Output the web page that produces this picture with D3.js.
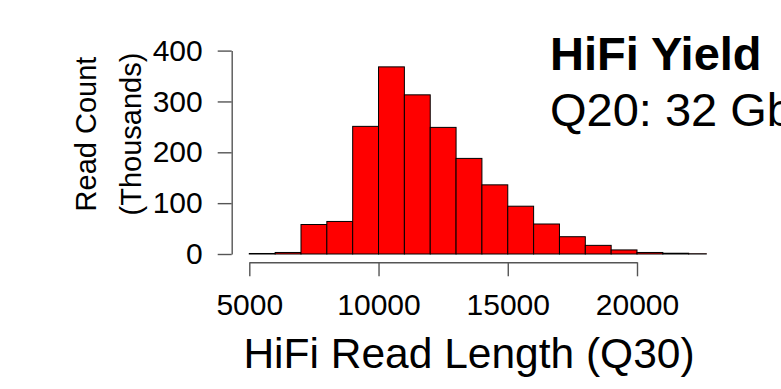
<!DOCTYPE html>
<html lang="en">
<head>
  <meta charset="UTF-8">
  <title>HiFi Read Length</title>
  <script src="https://d3js.org/d3.v7.min.js"></script>
  <style>
    body { margin: 0; background: #fff; }
    text { font-family: "Liberation Sans", Arial, Helvetica, sans-serif; fill: #000; }
  </style>
</head>
<body>
<div class="canvas"></div>
<script>
  // bin edges (read length) and counts in thousands
  const binStarts = [5000, 6000, 7000, 8000, 9000, 10000, 11000, 12000, 13000,
                     14000, 15000, 16000, 17000, 18000, 19000, 20000, 21000, 22000]
  const binWidth = 1000
  const counts = [1, 3, 58, 64, 251, 368, 313, 249, 188,
                  136, 94, 59, 34, 17, 8, 3, 1.5, 0.5]

  const xTicks = [5000, 10000, 15000, 20000]
  const yTicks = [0, 100, 200, 300, 400]
  const xMaxShown = 22700

  const titleLines = ['HiFi Yield', 'Q20: 32 Gb']
  const xLabel = 'HiFi Read Length (Q30)'
  const yLabelLines = ['Read Count', '(Thousands)']

  const width = 781, height = 389

  const svg = d3.select('.canvas')
    .append('svg')
    .attr('width', width)
    .attr('height', height)

  const x = d3.scaleLinear().domain([5000, 20000]).range([249.3, 637])
  const y = d3.scaleLinear().domain([0, 400]).range([254, 50.6])

  svg.append('clipPath')
    .attr('id', 'plotClip')
    .append('rect')
    .attr('x', 0)
    .attr('y', 0)
    .attr('width', x(xMaxShown))
    .attr('height', height)

  // histogram bars
  svg.append('g')
    .attr('clip-path', 'url(#plotClip)')
    .selectAll('rect')
    .data(binStarts)
    .enter()
    .append('rect')
    .attr('x', d => x(d))
    .attr('width', d => x(d + binWidth) - x(d))
    .attr('y', (d, i) => y(counts[i]))
    .attr('height', (d, i) => y(0) - y(counts[i]))
    .attr('fill', '#ff0000')
    .attr('stroke', '#000')
    .attr('stroke-width', 1)

  // axes, R style: detached, outward ticks
  const yAxis = svg.append('g')
    .attr('transform', 'translate(231.7, 0)')
    .call(d3.axisLeft(y).tickValues(yTicks).tickSize(14).tickSizeOuter(0).tickPadding(15))

  const xAxis = svg.append('g')
    .attr('transform', 'translate(0, 262.3)')
    .call(d3.axisBottom(x).tickValues(xTicks).tickFormat(d3.format('d')).tickSize(14).tickSizeOuter(0).tickPadding(17))

  ;[yAxis, xAxis].forEach(a => {
    a.select('.domain').attr('stroke', '#555').attr('stroke-width', 1.4)
    a.selectAll('.tick line').attr('stroke', '#555').attr('stroke-width', 1.4)
    a.selectAll('.tick text').attr('fill', '#000').style('font-size', '30px')
      .style('font-family', '"Liberation Sans", Arial, Helvetica, sans-serif')
  })

  // axis titles
  svg.append('text')
    .attr('x', 469)
    .attr('y', 368)
    .attr('text-anchor', 'middle')
    .style('font-size', '42.5px')
    .text(xLabel)

  const yLabelPos = [[96, 134], [141, 134]]
  svg.selectAll('.ylab')
    .data(yLabelLines)
    .enter()
    .append('text')
    .attr('class', 'ylab')
    .attr('transform', (d, i) => `translate(${yLabelPos[i][0]}, ${yLabelPos[i][1]}) rotate(-90)`)
    .attr('text-anchor', 'middle')
    .style('font-size', '29px')
    .text(d => d)

  // yield title, runs off the right edge like the original
  svg.selectAll('.title')
    .data(titleLines)
    .enter()
    .append('text')
    .attr('class', 'title')
    .attr('x', 550)
    .attr('y', (d, i) => 70 + i * 56)
    .style('font-size', '47px')
    .style('font-weight', (d, i) => i === 0 ? 'bold' : 'normal')
    .text(d => d)
</script>
</body>
</html>
